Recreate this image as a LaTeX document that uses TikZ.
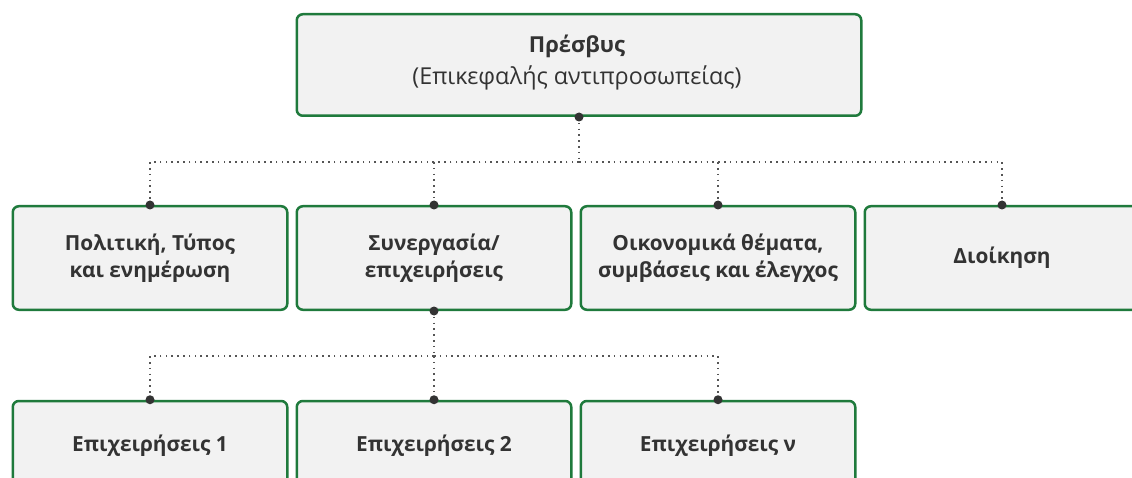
\documentclass[tikz,border=0pt]{standalone}
\usepackage{fontspec}
\setmainfont{Open Sans}
\definecolor{boxgreen}{HTML}{1F7A3C}
\definecolor{boxfill}{HTML}{F2F2F2}
\definecolor{textgray}{HTML}{333333}
\definecolor{linegray}{HTML}{555555}
\definecolor{dotgray}{HTML}{333333}
\begin{document}
\begin{tikzpicture}[x=1pt,y=-1pt,
  box/.style={draw=boxgreen, line width=2.5pt, fill=boxfill, rounded corners=6pt,
    minimum width=274.5pt, minimum height=103.5pt, text=textgray, align=center,
    font=\bfseries\fontsize{20.8}{27}\selectfont, inner sep=0pt},
  lowbox/.style={box, minimum height=90pt},
  topbox/.style={box, minimum width=564.5pt, minimum height=101.5pt},
  label/.style={text=textgray, anchor=base, inner sep=0pt},
  conn/.style={draw=linegray, line width=1.6pt, dash pattern=on 1.6pt off 4.2pt},
  dot/.style={circle, fill=dotgray, inner sep=0pt, minimum size=9pt}]
\useasboundingbox (0,0) rectangle (1132,478);
\clip (0,0) rectangle (1132,478);

\node[topbox] (top) at (579,65) {};
\node[label, font=\bfseries\fontsize{22}{22}\selectfont] (title) at (577,53) {Πρέσβυς};
\node[label, font=\fontsize{23.3}{22}\selectfont] (subtitle) at (577,85) {(Επικεφαλής αντιπροσωπείας)};

\node[box] (p1) at (150,258) {Πολιτική, Τύπος\\και ενημέρωση};
\node[box] (p2) at (434,258) {Συνεργασία/\\επιχειρήσεις};
\node[box] (p3) at (718,258) {Οικονομικά θέματα,\\συμβάσεις και έλεγχος};
\node[box] (p4) at (1002,258) {Διοίκηση};

\node[lowbox] (o1) at (150,446) {Επιχειρήσεις 1};
\node[lowbox] (o2) at (434,446) {Επιχειρήσεις 2};
\node[lowbox] (o3) at (718,446) {Επιχειρήσεις ν};

\coordinate (bus1) at (0,162);
\coordinate (bus2) at (0,356);

\draw[conn] (top.south) -- (top.south |- bus1);
\foreach \n in {p1,p2,p3,p4}
  \draw[conn] (top.south |- bus1) -| (\n.north);
\draw[conn] (p2.south) -- (p2.south |- bus2);
\foreach \n in {o1,o2,o3}
  \draw[conn] (p2.south |- bus2) -| (\n.north);

\foreach \n in {top.south,p1.north,p2.north,p3.north,p4.north,p2.south,o1.north,o2.north,o3.north}
  \node[dot] at (\n) {};
\end{tikzpicture}
\end{document}
